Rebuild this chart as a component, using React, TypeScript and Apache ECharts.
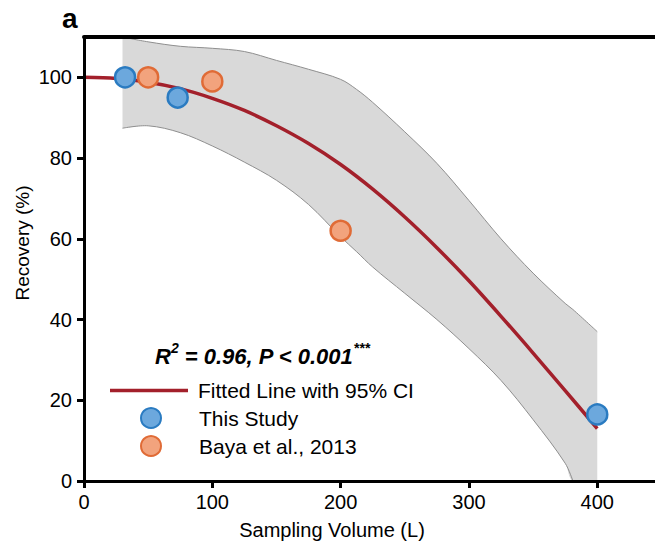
import React, { useEffect, useRef } from "react";
import * as echarts from "echarts";

const fitX = [0, 25, 50, 75, 100, 125, 150, 175, 200, 225, 250, 275, 300, 325, 350, 375, 400];
const fitY = [100, 99.7, 98.8, 97.2, 94.8, 91.8, 88, 83.6, 78.4, 72.3, 65.4, 57.8, 49.6, 40.8, 31.7, 22.4, 13];

const bandX = [30, 50, 75, 100, 125, 150, 175, 200, 212.5, 225, 250, 275, 300, 325, 350, 375, 381, 400];
const bandUpper = [110, 108.8, 107.7, 107.2, 106.4, 104.2, 102, 99.5, 97, 93.8, 86.5, 78.7, 69.5, 60, 51.5, 44, 42.5, 37];
const bandLower = [87.4, 88, 86.3, 83, 79, 74.5, 68.5, 60.5, 56.8, 53, 46.5, 40, 32.8, 24.9, 15.2, 4.4, 0, 0];

const thisStudyX = [32, 73, 400];
const thisStudyY = [100, 95, 16.5];
const bayaX = [50, 100, 200];
const bayaY = [100, 99, 62];

const xTicks = [0, 100, 200, 300, 400];
const yTicks = [0, 20, 40, 60, 80, 100];

const FONT = "'Liberation Sans', Arial, Helvetica, sans-serif";

export default function App() {
  const ref = useRef<HTMLDivElement>(null);
  useEffect(() => {
    if (!ref.current) return;
    const chart = echarts.init(ref.current, null, { renderer: "svg" });
    const axisCommon = {
      type: "value" as const,
      z: 10,
      splitLine: { show: false },
      axisLine: { show: true, onZero: false, lineStyle: { color: "#000", width: 3 } },
    };
    const SM = 0.35;
    chart.setOption({
      animation: false,
      backgroundColor: "#fff",
      grid: { left: 84, right: 0, top: 37, bottom: 69 },
      xAxis: [
        {
          ...axisCommon,
          min: 0,
          max: 445,
          position: "bottom",
          axisTick: { show: true, customValues: xTicks, length: 7, lineStyle: { width: 3, color: "#000" } },
          axisLabel: { customValues: xTicks, fontSize: 20, color: "#000", fontFamily: FONT, margin: 11 },
        },
        {
          ...axisCommon,
          min: 0,
          max: 445,
          position: "top",
          axisLine: { show: true, onZero: false, lineStyle: { color: "#000", width: 4 } },
          axisTick: { show: false },
          axisLabel: { show: false },
        },
      ],
      yAxis: {
        ...axisCommon,
        min: 0,
        max: 110,
        axisTick: { show: true, customValues: yTicks, length: 7, lineStyle: { width: 3, color: "#000" } },
        axisLabel: { customValues: yTicks, fontSize: 20, color: "#000", fontFamily: FONT, margin: 12 },
      },
      legend: [
        {
          data: [{ name: "Fitted Line with 95% CI", icon: "rect" }],
          left: 110,
          top: 380,
          padding: 0,
          orient: "vertical",
          itemWidth: 78,
          itemHeight: 3.5,
          textStyle: { fontSize: 21, color: "#000", fontFamily: FONT, padding: [0, 0, 0, 5] },
        },
        {
          data: ["This Study", "Baya et al., 2013"],
          left: 140,
          top: 407,
          padding: 0,
          orient: "vertical",
          itemGap: 6,
          itemWidth: 20,
          itemHeight: 20,
          textStyle: { fontSize: 21, color: "#000", fontFamily: FONT, padding: [0, 0, 0, 33] },
        },
      ],
      graphic: [
        {
          type: "text",
          z: 20,
          left: 62,
          top: 4,
          style: { text: "a", font: `bold 28px ${FONT}`, fill: "#000" },
        },
        {
          type: "text",
          z: 20,
          x: 332,
          y: 530,
          style: {
            text: "Sampling Volume (L)",
            font: `20px ${FONT}`,
            fill: "#000",
            align: "center",
            verticalAlign: "middle",
          },
        },
        {
          type: "text",
          z: 20,
          x: 22,
          y: 243,
          rotation: Math.PI / 2,
          style: {
            text: "Recovery (%)",
            font: `19px ${FONT}`,
            fill: "#000",
            align: "center",
            verticalAlign: "middle",
          },
        },
        {
          type: "text",
          z: 20,
          left: 155,
          top: 341,
          style: {
            text: "{b|R}{s|2}{b| = 0.96, P < 0.001}{s|***}",
            rich: {
              b: { font: `italic bold 22px ${FONT}`, fill: "#000", verticalAlign: "bottom", lineHeight: 26 },
              s: { font: `italic bold 14px ${FONT}`, fill: "#000", verticalAlign: "top", lineHeight: 26 },
            },
          },
        },
      ],
      series: [
        {
          type: "custom",
          name: "95% CI",
          silent: true,
          z: 1,
          data: [[bandX[0], bandUpper[0]]],
          renderItem: (_params: any, api: any) => {
            const up = bandX.map((x, i) => api.coord([x, bandUpper[i]]));
            const lo = bandX.map((x, i) => api.coord([x, bandLower[i]]));
            const n = up.length;
            const loRev = lo.slice().reverse();
            const poly = [up[0], ...up, up[n - 1], loRev[0], ...loRev, loRev[n - 1]];
            return {
              type: "group",
              children: [
                {
                  type: "polygon",
                  shape: { points: poly, smooth: SM },
                  style: { fill: "#d9d9d9", stroke: "none" },
                },
                {
                  type: "polyline",
                  shape: { points: up, smooth: SM },
                  style: { stroke: "#8f8f8f", lineWidth: 1, fill: "none" },
                },
                {
                  type: "polyline",
                  shape: { points: lo.slice(0, n - 1), smooth: SM },
                  style: { stroke: "#8f8f8f", lineWidth: 1, fill: "none" },
                },
              ],
            };
          },
        },
        {
          type: "line",
          name: "Fitted Line with 95% CI",
          data: fitX.map((x, i) => [x, fitY[i]]),
          smooth: 0.3,
          symbol: "none",
          z: 3,
          lineStyle: { color: "#a3202b", width: 3.5 },
          itemStyle: { color: "#a3202b" },
        },
        {
          type: "scatter",
          name: "This Study",
          data: thisStudyX.map((x, i) => [x, thisStudyY[i]]),
          symbol: "circle",
          symbolSize: 20,
          z: 5,
          itemStyle: { color: "#6ca8dd", borderColor: "#2a7bc1", borderWidth: 2.5, opacity: 1 },
        },
        {
          type: "scatter",
          name: "Baya et al., 2013",
          data: bayaX.map((x, i) => [x, bayaY[i]]),
          symbol: "circle",
          symbolSize: 20,
          z: 5,
          itemStyle: { color: "#f2a37d", borderColor: "#e06b36", borderWidth: 2.5, opacity: 1 },
        },
      ],
    });
    return () => chart.dispose();
  }, []);
  return (
    <div
      ref={ref}
      style={{ position: "absolute", left: 0, top: 0, width: 655, height: 550 }}
    />
  );
}
